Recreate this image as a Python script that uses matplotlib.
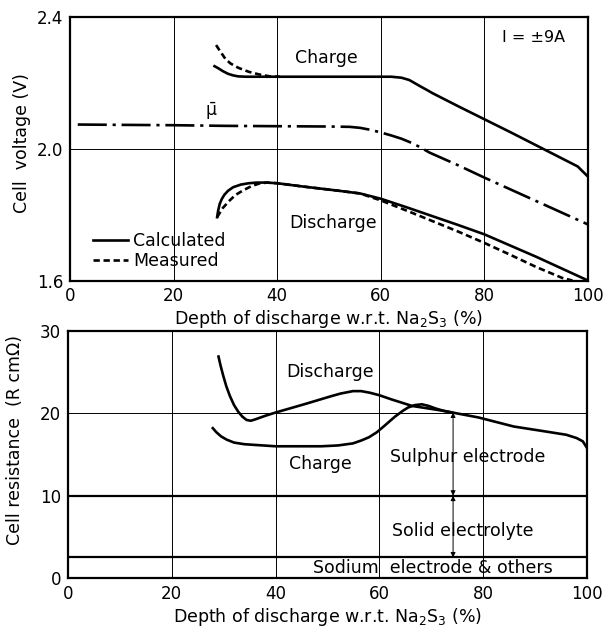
import matplotlib
matplotlib.use("Agg")
import matplotlib.pyplot as plt

plt.rcParams['font.family'] = ['DejaVu Sans']
plt.rcParams['mathtext.fontset'] = 'dejavusans'

# ---------------- Top panel data (cell voltage, V) ----------------
charge_calc_x = [27.9, 28.7, 29.5, 30.5, 31.5, 32.5, 34.0, 40, 50, 60, 62, 64, 65.5, 66.5, 67.5,
                 69, 70, 75, 80, 85, 90, 95, 98, 100]
charge_calc_y = [2.250, 2.243, 2.235, 2.227, 2.222, 2.219, 2.218, 2.218, 2.218, 2.218, 2.218,
                 2.215, 2.208, 2.199, 2.190, 2.177, 2.168, 2.128, 2.089, 2.050, 2.010, 1.970,
                 1.946, 1.915]

charge_meas_x = [28.2, 29.0, 30.0, 31.0, 32.5, 34.5, 36.5, 38.6, 40.5]
charge_meas_y = [2.314, 2.295, 2.272, 2.258, 2.245, 2.233, 2.225, 2.219, 2.218]

mu_x = [1.5, 10, 20, 30, 40, 50, 54, 56, 58, 60, 62, 64, 66, 67.5, 69.4, 75, 80, 90, 100]
mu_y = [2.073, 2.072, 2.071, 2.069, 2.068, 2.067, 2.066, 2.063, 2.057, 2.049, 2.040, 2.030,
        2.017, 2.005, 1.988, 1.949, 1.912, 1.841, 1.770]

dis_calc_x = [28.4, 28.6, 28.9, 29.3, 29.8, 30.5, 31.5, 33.0, 34.5, 36.0, 38.0, 40, 45, 52, 56,
              60, 65, 70, 75, 80, 85, 90, 95, 100]
dis_calc_y = [1.792, 1.812, 1.832, 1.847, 1.860, 1.872, 1.883, 1.891, 1.895, 1.897, 1.897, 1.895,
              1.885, 1.872, 1.864, 1.848, 1.822, 1.795, 1.768, 1.740, 1.706, 1.672, 1.636, 1.600]

dis_meas_x = [28.4, 29.5, 30.9, 32.0, 33.5, 35.0, 36.5, 38.0, 40, 45, 52, 56, 60, 65.3, 70, 75,
              80, 85, 90, 95, 97]
dis_meas_y = [1.792, 1.820, 1.844, 1.860, 1.874, 1.886, 1.894, 1.897, 1.895, 1.885, 1.872, 1.864,
              1.843, 1.810, 1.780, 1.748, 1.714, 1.678, 1.641, 1.608, 1.600]

# ---------------- Bottom panel data (cell resistance) ----------------
res_dis_x = [29.0, 29.4, 29.9, 30.5, 31.2, 32.0, 32.8, 33.6, 34.4, 35.2, 36.0, 38.0, 40.0, 45.5,
             50.8, 52.5, 54.9, 56.5, 58.2, 60.0, 62.3, 66.3, 72.4, 79.1, 85.9, 92.0, 96.0, 98.0,
             99.2, 100.0]
res_dis_y = [26.9, 25.8, 24.6, 23.3, 22.1, 21.0, 20.2, 19.6, 19.2, 19.1, 19.25, 19.7, 20.1, 21.1,
             22.1, 22.4, 22.7, 22.7, 22.5, 22.2, 21.7, 20.9, 20.3, 19.5, 18.4, 17.8, 17.4, 17.0,
             16.6, 15.8]

res_chg_x = [27.9, 28.6, 29.5, 30.6, 32.0, 34.0, 40.0, 48.8, 52.0, 54.9, 56.5, 58.0, 59.5, 61.0,
             63.0, 64.5, 65.5, 66.8, 68.2, 69.5, 70.8, 72.4, 74.0]
res_chg_y = [18.2, 17.7, 17.2, 16.8, 16.45, 16.25, 16.0, 16.0, 16.1, 16.35, 16.7, 17.1, 17.7,
             18.5, 19.6, 20.3, 20.7, 21.0, 21.1, 20.9, 20.6, 20.3, 20.1]

solid_electrolyte_level = 10.0
sodium_level = 2.5
sulphur_top = 20.1

x_ticks = [0, 20, 40, 60, 80, 100]
v_ticks = [1.6, 2.0, 2.4]
v_ticklabels = ['1.6', '2.0', '2.4']
r_ticks = [0, 10, 20, 30]
r_ticklabels = ['0', '10', '20', '30']

xlabel = 'Depth of discharge w.r.t. Na$_2$S$_3$ (%)'

FS = 12.5
TFS = 12
LW = 1.9
SPINE = 1.6
GRID = 0.7

fig = plt.figure(figsize=(6.06, 6.28), dpi=100)
ax1 = fig.add_axes([0.1155, 0.5533, 0.8548, 0.4201])
ax2 = fig.add_axes([0.1122, 0.0796, 0.8564, 0.3933])

for ax in (ax1, ax2):
    ax.set_xlim(0, 100)
    ax.set_xticks(x_ticks)
    ax.set_xticklabels([str(t) for t in x_ticks])
    ax.tick_params(length=0, labelsize=TFS, pad=5)
    for s in ax.spines.values():
        s.set_linewidth(SPINE)
    for xv in x_ticks[1:-1]:
        ax.axvline(xv, color='black', lw=GRID, zorder=1)
    ax.set_xlabel(xlabel, fontsize=FS, labelpad=2)

# ---- top ----
ax1.set_ylim(1.6, 2.4)
ax1.set_yticks(v_ticks)
ax1.set_yticklabels(v_ticklabels)
ax1.axhline(2.0, color='black', lw=GRID, zorder=1)

l_calc, = ax1.plot(charge_calc_x, charge_calc_y, color='black', lw=LW, label='Calculated', zorder=3)
l_meas, = ax1.plot(charge_meas_x, charge_meas_y, color='black', lw=LW, ls=(0, (2.4, 1.4)),
                   label='Measured', zorder=3)
ax1.plot(mu_x, mu_y, color='black', lw=LW, ls=(0, (11, 2.2, 1.2, 2.2)), zorder=3)
ax1.plot(dis_calc_x, dis_calc_y, color='black', lw=LW, zorder=3)
ax1.plot(dis_meas_x, dis_meas_y, color='black', lw=LW, ls=(0, (2.4, 1.4)), zorder=3)

ax1.text(49.5, 2.275, 'Charge', fontsize=FS, ha='center', va='center')
ax1.text(50.8, 1.775, 'Discharge', fontsize=FS, ha='center', va='center')
ax1.text(27.3, 2.112, r'$\bar{\mathrm{\mu}}$', fontsize=FS, ha='center', va='center')
ax1.text(89.5, 2.337, 'I = ±9A', fontsize=FS - 1, ha='center', va='center')

ax1.legend(handles=[l_calc, l_meas], loc='lower left', bbox_to_anchor=(0.045, 0.04),
           frameon=False, fontsize=FS, handlelength=2.0, handletextpad=0.3,
           labelspacing=0.1, borderpad=0, borderaxespad=0)
ax1.set_ylabel('Cell  voltage (V)', fontsize=FS)
ax1.yaxis.set_label_coords(-0.075, 0.52)

# ---- bottom ----
ax2.set_ylim(0, 30)
ax2.set_yticks(r_ticks)
ax2.set_yticklabels(r_ticklabels)
ax2.axhline(20, color='black', lw=GRID, zorder=1)
ax2.axhline(solid_electrolyte_level, color='black', lw=SPINE, zorder=2)
ax2.axhline(sodium_level, color='black', lw=SPINE, zorder=2)

ax2.plot(res_dis_x, res_dis_y, color='black', lw=LW, zorder=3)
ax2.plot(res_chg_x, res_chg_y, color='black', lw=LW, zorder=3)

arrow_x = 74.2
arrow_props = dict(arrowstyle='<|-|>', lw=0.7, color='black', mutation_scale=7,
                   shrinkA=0, shrinkB=0)
ax2.annotate('', xy=(arrow_x, solid_electrolyte_level), xytext=(arrow_x, sulphur_top),
             arrowprops=arrow_props)
ax2.annotate('', xy=(arrow_x, sodium_level), xytext=(arrow_x, solid_electrolyte_level),
             arrowprops=arrow_props)

ax2.text(50.5, 25.0, 'Discharge', fontsize=FS, ha='center', va='center')
ax2.text(48.7, 13.8, 'Charge', fontsize=FS, ha='center', va='center')
ax2.text(77.1, 14.7, 'Sulphur electrode', fontsize=FS, ha='center', va='center')
ax2.text(76.0, 5.7, 'Solid electrolyte', fontsize=FS, ha='center', va='center')
ax2.text(70.3, 1.2, 'Sodium  electrode & others', fontsize=FS, ha='center', va='center')

ax2.set_ylabel('Cell resistance  (R cmΩ)', fontsize=FS)
ax2.yaxis.set_label_coords(-0.085, 0.56)

fig.savefig('out.png', dpi=100)
